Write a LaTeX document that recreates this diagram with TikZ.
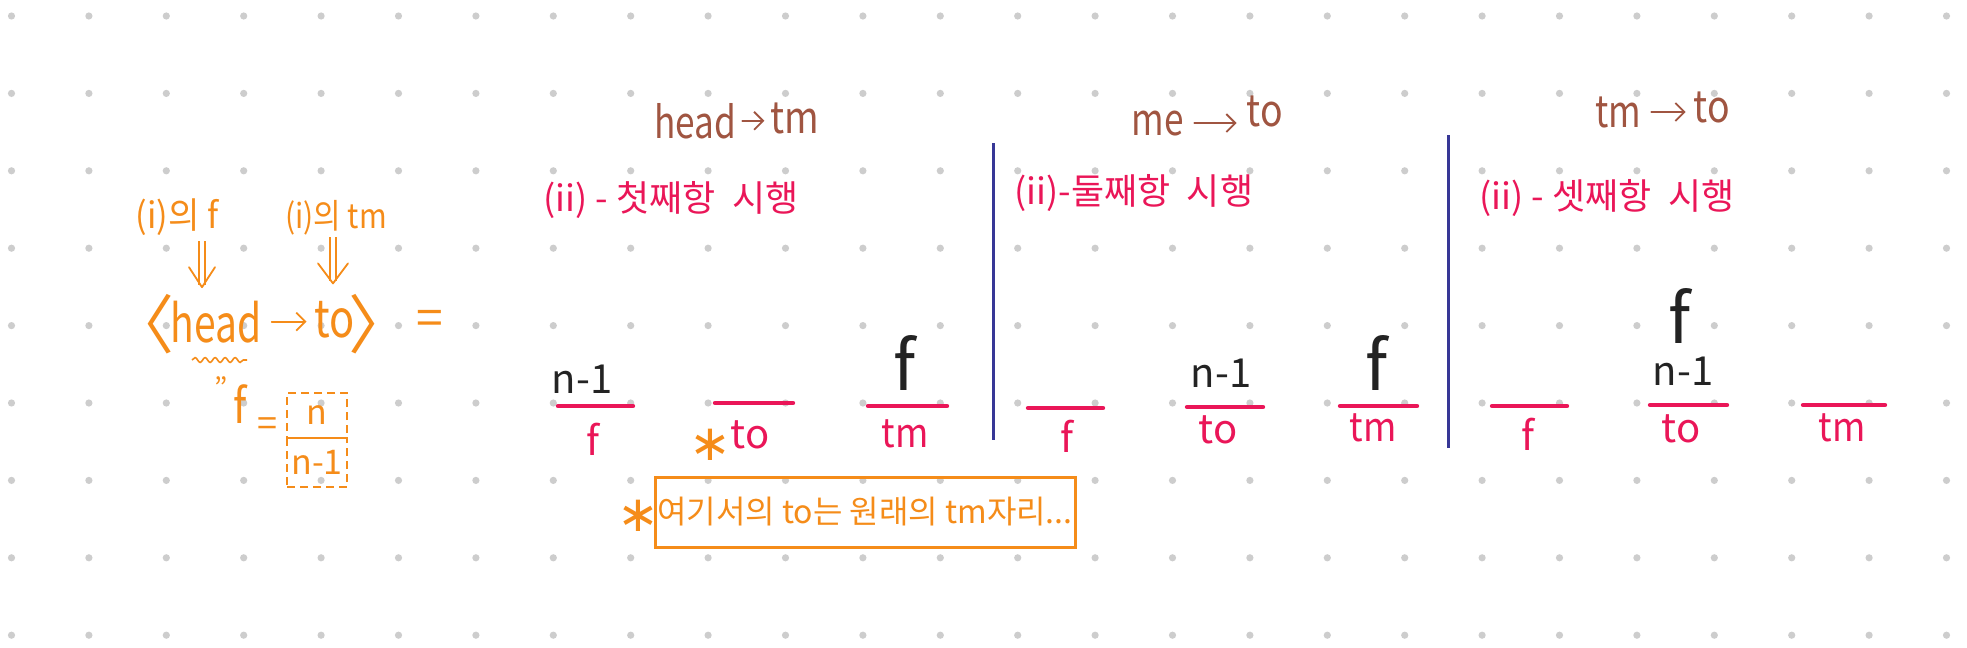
\documentclass[tikz,border=0pt]{standalone}
\usepackage{fontspec}
\setmainfont{Noto Sans CJK KR}
\newfontfamily\djv{DejaVu Sans}
\usetikzlibrary{arrows.meta,decorations.pathmorphing,calc}
\definecolor{hwor}{RGB}{245,140,25}
\definecolor{hwbr}{RGB}{160,85,65}
\definecolor{hwpk}{RGB}{234,22,88}
\definecolor{hwnv}{RGB}{55,55,150}
\definecolor{hwink}{RGB}{35,35,35}
\definecolor{dotgr}{RGB}{205,205,205}
\begin{document}
\begin{tikzpicture}[x=0.5pt,y=-0.5pt,
 hw/.style={inner sep=0pt,anchor=base},
 fs/.style={font=\fontsize{#1}{#1}\selectfont},
 bar/.style={hwpk,line width=2.2pt,line cap=round},
 harrow/.style={line width=0.9pt,line cap=round,line join=round,-{Straight Barb[length=4.5pt,width=9pt,line width=0.9pt]}},
 dbl/.style={hwor,double=white,double distance=2.4pt,line width=0.8pt},
 chev/.style={hwor,line width=0.9pt,line cap=round,line join=round},
 vline/.style={hwnv,line width=1.5pt},
 star/.style={inner sep=0pt,text=hwor,font=\djv\fontsize{25}{25}\selectfont}]
\fill[white] (0,0) rectangle (1967,648);
\foreach \i in {0,...,25}{\foreach \j in {0,...,8}{\fill[dotgr] (11.5+77.4*\i,16+77.4*\j) circle[radius=1.8pt];}}
\useasboundingbox (0,0) rectangle (1967,648);

% ---------- left part ----------
\node[hw,fs=18,text=hwor,xscale=.95] (lf) at (177,228) {(i)의 f};
\node[hw,fs=17,text=hwor,xscale=.88] (ltm) at (336,228) {(i)의 tm};
\node[inner sep=0pt,fs=32,text=hwor] (lb) at (142,324) {〈};
\node[hw,fs=26,text=hwor,xscale=.75] (hd) at (216,342) {head};
\node[hw,fs=26,text=hwor,xscale=.8] (to0) at (335,337) {to};
\node[inner sep=0pt,fs=32,text=hwor] (rb) at (380,324) {〉};
\node[hw,fs=24,text=hwor] (eq) at (430,335) {=};
\draw[hwor,harrow,shorten <=5pt,shorten >=4pt] (hd.east) -- (hd.east -| to0.west);

\coordinate (a1t) at ([xshift=12.5pt,yshift=-3pt]lf.south);
\coordinate (a1b) at ([xshift=-7pt,yshift=6.5pt]hd.north);
\draw[dbl] (a1t) -- ([yshift=1pt]a1b);
\draw[chev] ([shift={(-6.5pt,10pt)}]a1b) -- (a1b) -- ([shift={(6.5pt,10pt)}]a1b);
\coordinate (a2t) at ([xshift=-1.5pt,yshift=-1pt]ltm.south);
\coordinate (a2b) at ([xshift=-1pt,yshift=8.5pt]to0.north);
\draw[dbl] (a2t) -- ([yshift=1pt]a2b);
\draw[chev] ([shift={(-7.5pt,10pt)}]a2b) -- (a2b) -- ([shift={(7.5pt,10pt)}]a2b);

\draw[hwor,line width=0.8pt,decorate,decoration={snake,amplitude=1.2pt,segment length=5pt}] (192,360) -- (247,360);
\node[hw,fs=14,text=hwor] (dit) at (221,398) {"};
\node[hw,fs=24,text=hwor,xscale=.85] (f0) at (240,423) {f};
\node[hw,fs=18,text=hwor] (eq2) at (267,436) {=};
\node[draw=hwor,dashed,dash pattern=on 4pt off 2.5pt,line width=0.7pt,minimum width=30pt,minimum height=22.5pt,inner sep=0pt,fs=17,text=hwor] (bn) at (317,415.5) {n};
\node[draw=hwor,dashed,dash pattern=on 4pt off 2.5pt,line width=0.7pt,minimum width=30pt,minimum height=24.5pt,inner sep=0pt,fs=17,text=hwor] (bn1) at (317,462.5) {n-1};

% ---------- section headers ----------
\node[hw,fs=22,text=hwbr,xscale=.8] (h1a) at (695,138) {head};
\node[hw,fs=22,text=hwbr,xscale=.85] (h1b) at (795,133) {tm};
\draw[hwbr,harrow,shorten <=3pt,shorten >=3pt] (h1a.east) -- (h1a.east -| h1b.west);
\node[hw,fs=22,text=hwbr,xscale=.8] (h2a) at (1158,135) {me};
\node[hw,fs=22,text=hwbr,xscale=.85] (h2b) at (1265,126) {to};
\draw[hwbr,harrow,shorten <=5pt,shorten >=5pt] (h2a.east) -- (h2a.east -| h2b.west);
\node[hw,fs=22,text=hwbr,xscale=.8] (h3a) at (1618,127) {tm};
\node[hw,fs=22,text=hwbr,xscale=.85] (h3b) at (1712,122) {to};
\draw[hwbr,harrow,shorten <=5pt,shorten >=4pt] (h3a.east) -- (h3a.east -| h3b.west);

\node[hw,fs=18,text=hwpk] (p1) at (671,211) {(ii) - 첫째항\ \ 시행};
\node[hw,fs=18,text=hwpk] (p2) at (1134,204) {(ii)-둘째항\ \ 시행};
\node[hw,fs=18,text=hwpk] (p3) at (1607,209) {(ii) - 셋째항\ \ 시행};

\draw[vline] (993,143) -- (993,440);
\draw[vline] (1448,135) -- (1448,448);

% ---------- section 1 ----------
\node[hw,fs=20,text=hwink] (s1n) at (582,393) {n-1};
\draw[bar] (558,406) -- (633,406);
\node[hw,fs=20,text=hwpk] (s1f) at (593,455) {f};
\draw[bar] (715,403) -- (793,403);
\node[star] (st1) at (710,445) {∗};
\node[hw,fs=20,text=hwpk] (s1to) at (750,448) {to};
\node[hw,fs=34,text=hwink] (s1g) at (905,390) {f};
\draw[bar] (868,406) -- (947,406);
\node[hw,fs=20,text=hwpk,xscale=.9] (s1tm) at (905,447) {tm};

% ---------- section 2 ----------
\draw[bar] (1028,408) -- (1103,408);
\node[hw,fs=20,text=hwpk] (s2f) at (1067,452) {f};
\node[hw,fs=20,text=hwink] (s2n) at (1221,387) {n-1};
\draw[bar] (1187,407) -- (1263,407);
\node[hw,fs=20,text=hwpk] (s2to) at (1218,443) {to};
\node[hw,fs=34,text=hwink] (s2g) at (1377,390) {f};
\draw[bar] (1340,406) -- (1417,406);
\node[hw,fs=20,text=hwpk,xscale=.9] (s2tm) at (1373,441) {tm};

% ---------- section 3 ----------
\draw[bar] (1492,406) -- (1567,406);
\node[hw,fs=20,text=hwpk] (s3f) at (1528,450) {f};
\node[hw,fs=34,text=hwink] (s3g) at (1680,343) {f};
\node[hw,fs=20,text=hwink] (s3n) at (1683,385) {n-1};
\draw[bar] (1650,405) -- (1727,405);
\node[hw,fs=20,text=hwpk] (s3to) at (1681,442) {to};
\draw[bar] (1803,405) -- (1885,405);
\node[hw,fs=20,text=hwpk,xscale=.9] (s3tm) at (1842,441) {tm};

% ---------- note ----------
\node[star] (st2) at (638,516) {∗};
\node[draw=hwor,line width=1.5pt,minimum width=210pt,minimum height=35pt,inner sep=0pt,fs=16,text=hwor] (box) at (865,512) {여기서의 to는 원래의 tm자리...};
\end{tikzpicture}
\end{document}
